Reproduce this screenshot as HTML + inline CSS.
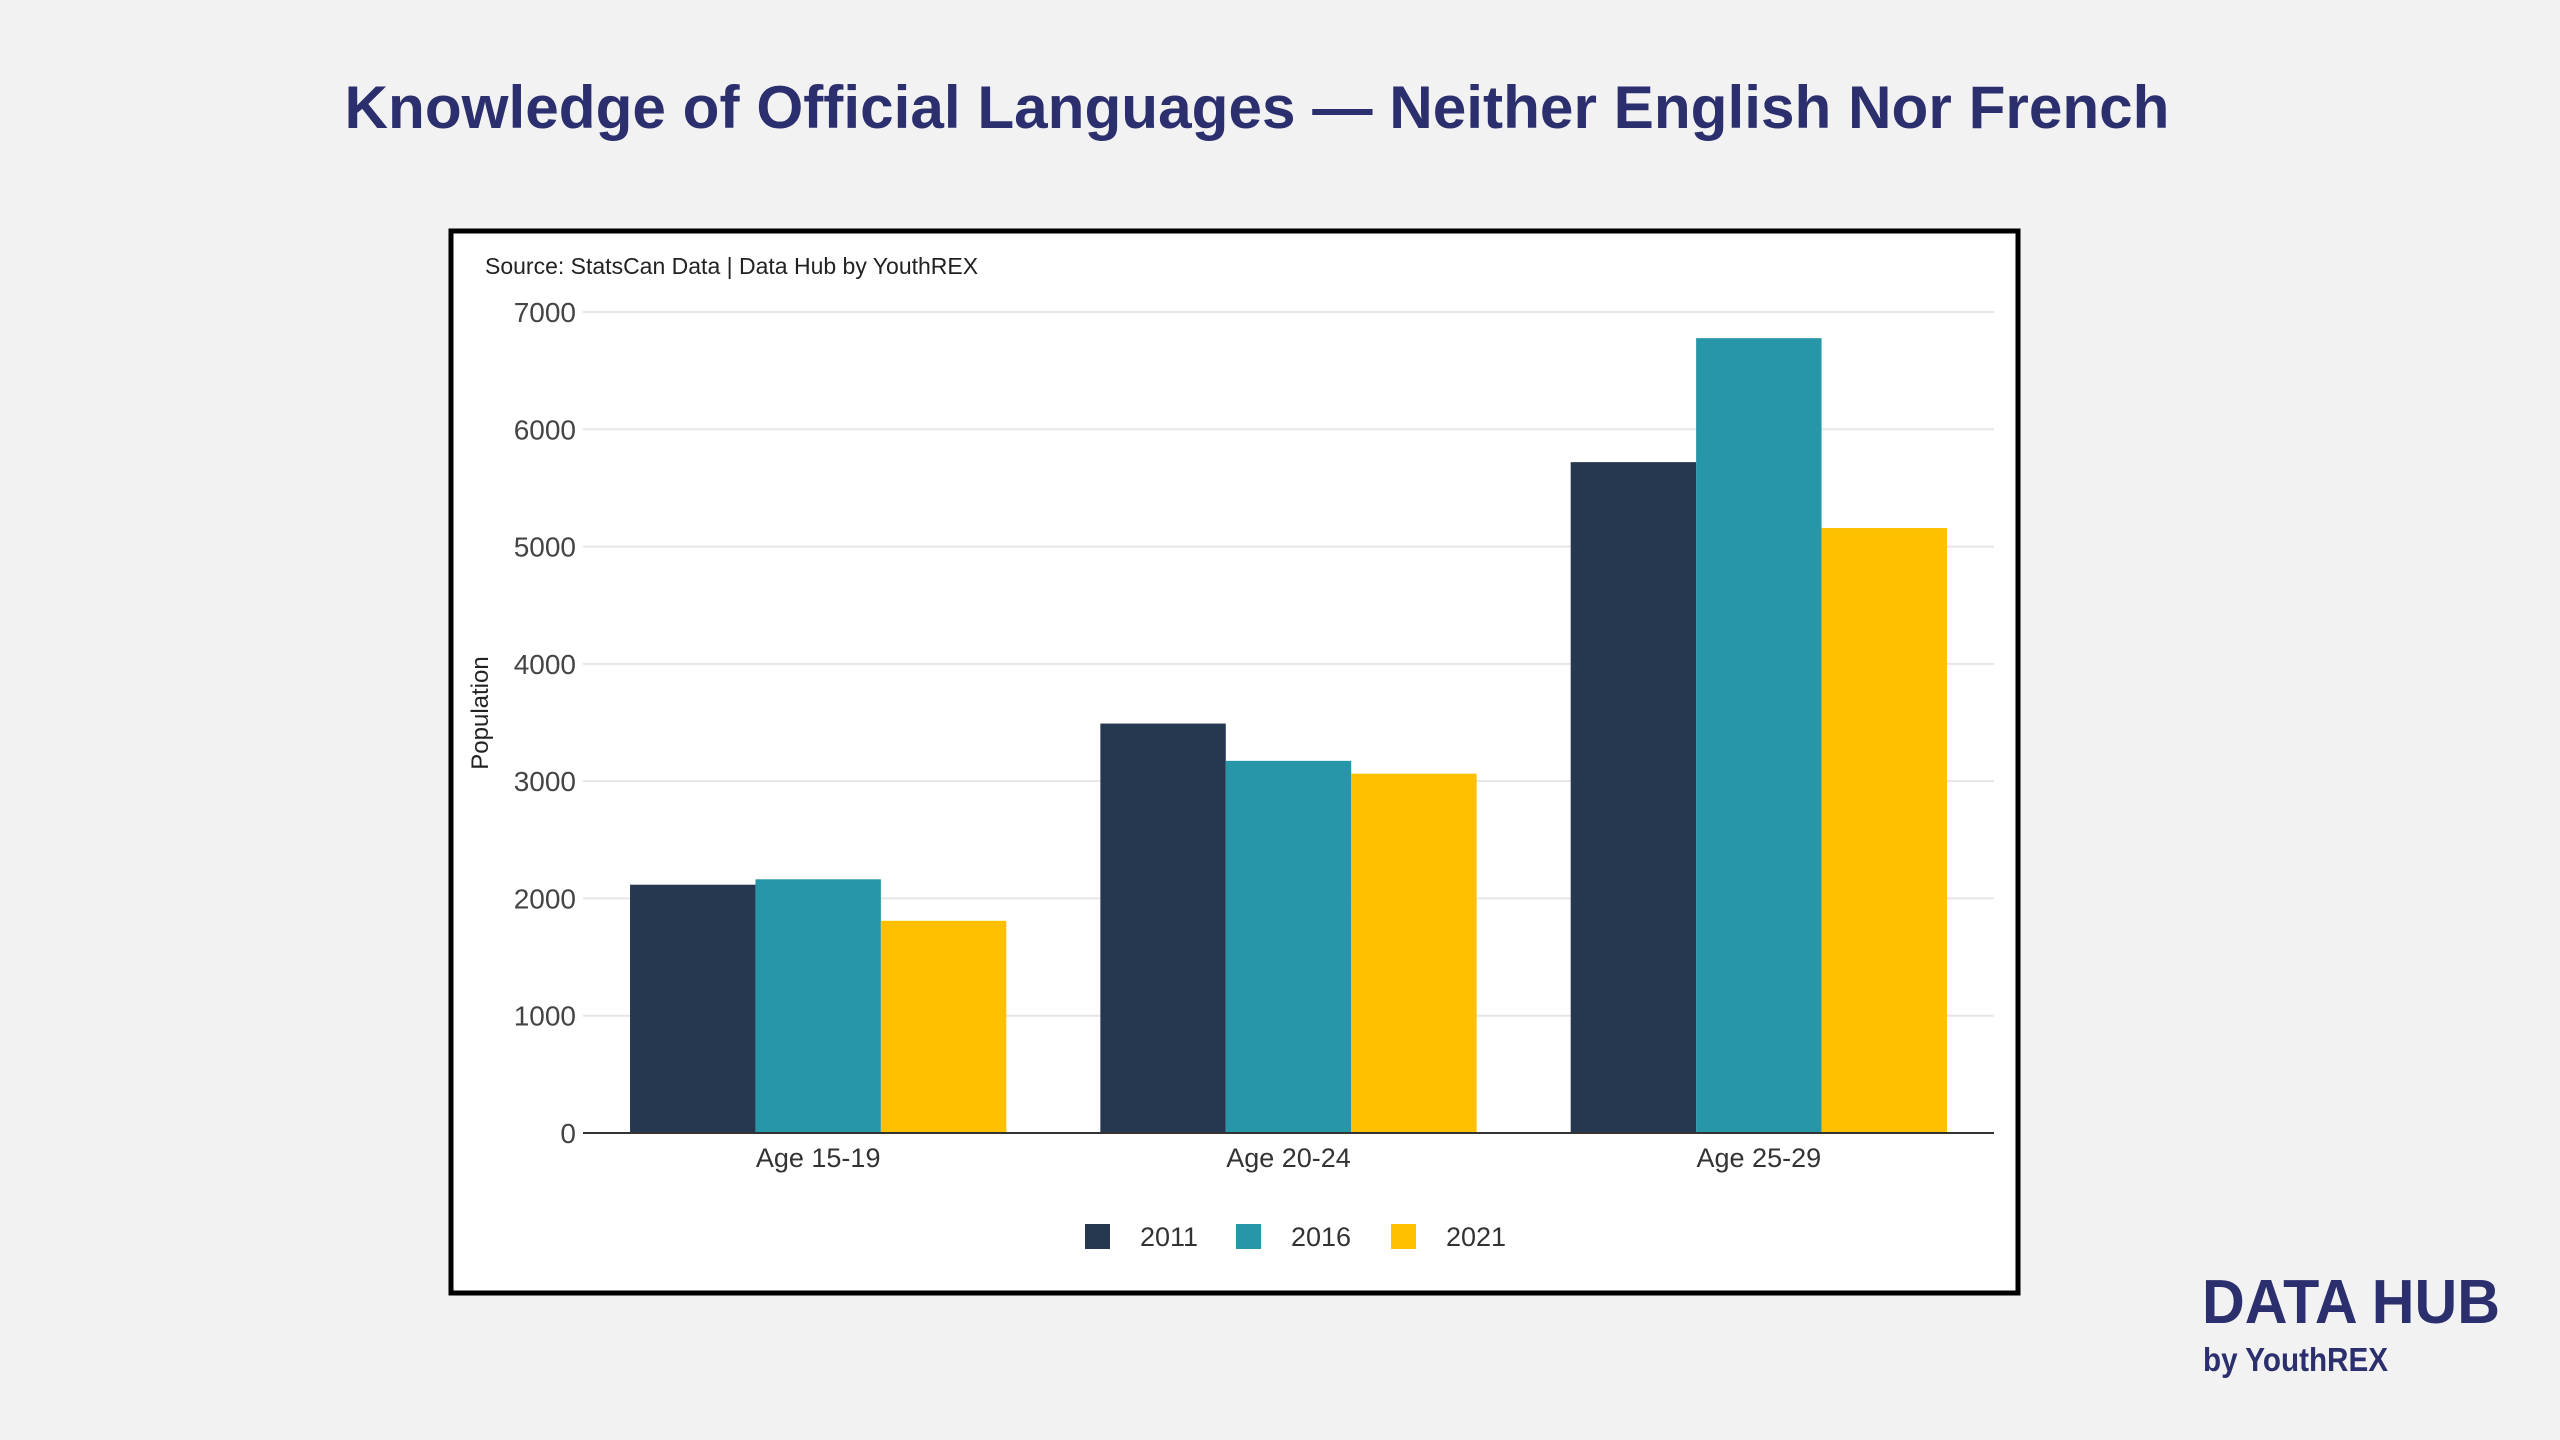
<!DOCTYPE html>
<html><head><meta charset="utf-8">
<style>
html,body{margin:0;padding:0;background:#f2f2f2;width:2560px;height:1440px;overflow:hidden;font-family:"Liberation Sans",sans-serif;}
</style></head>
<body>
<svg width="2560" height="1440" viewBox="0 0 2560 1440" xmlns="http://www.w3.org/2000/svg">
<text x="1257" y="128" text-anchor="middle" font-size="60" font-weight="bold" fill="#2b2f6e" textLength="1825" lengthAdjust="spacingAndGlyphs">Knowledge of Official Languages — Neither English Nor French</text>
<rect x="451" y="231" width="1567" height="1062" fill="#ffffff" stroke="#000" stroke-width="5"/>
<text x="485" y="274" font-size="23" fill="#222">Source: StatsCan Data | Data Hub by YouthREX</text>
<g id="grid"></g>
<g id="bars"></g>
<g id="axes"></g>
<text transform="translate(488,713) rotate(-90)" text-anchor="middle" font-size="24" fill="#222">Population</text>
<g id="legend"></g>
<text x="2202" y="1323" font-size="62" font-weight="bold" fill="#2b2f6e" textLength="298" lengthAdjust="spacingAndGlyphs">DATA HUB</text>
<text x="2203" y="1371" font-size="33" font-weight="bold" fill="#2b2f6e" textLength="185" lengthAdjust="spacingAndGlyphs">by YouthREX</text>
</svg>
<script>
const categories = ["Age 15-19","Age 20-24","Age 25-29"];
const seriesNames = ["2011","2016","2021"];
const values2011 = [2117,3491,5720];
const values2016 = [2163,3173,6777];
const values2021 = [1809,3064,5158];
const yTicks = [0,1000,2000,3000,4000,5000,6000,7000];
const colors = ["#253850","#2796a8","#ffc000"];
const NS="http://www.w3.org/2000/svg";
const X0=583,X1=1994,Y0=1133,Y1=312,YMAX=7000;
function y(v){return Y0-(Y0-Y1)*v/YMAX;}
const band=(X1-X0)/categories.length;
function xBand(i){return X0+band*i;}
function mk(tag,attrs,parent){const e=document.createElementNS(NS,tag);for(const k in attrs)e.setAttribute(k,attrs[k]);parent.appendChild(e);return e;}
const grid=document.getElementById('grid'),bars=document.getElementById('bars'),axes=document.getElementById('axes'),legend=document.getElementById('legend');
yTicks.forEach(t=>{
  if(t>0){const l=mk('line',{x1:X0,x2:X1,y1:y(t),y2:y(t),stroke:'#e6e6e6','stroke-width':2},grid);
  
  }
  const tx=mk('text',{x:X0-7,y:y(t)+10,'text-anchor':'end','font-size':28,fill:'#444'},axes);
  tx.textContent=t;
  
  
});
const ax=mk('line',{x1:X0,x2:X1,y1:Y0,y2:Y0,stroke:'#333','stroke-width':2},axes);


const all=[values2011,values2016,values2021];
const bw=band*0.8/3;
categories.forEach((c,i)=>{
  all.forEach((vals,s)=>{
    const x=xBand(i)+band*0.1+bw*s;
    const r=mk('rect',{x:x,y:y(vals[i]),width:bw,height:Y0-y(vals[i]),fill:colors[s]},bars);
    
    
  });
  const t=mk('text',{x:xBand(i)+band/2,y:1167,'text-anchor':'middle','font-size':27,fill:'#333'},axes);
  t.textContent=c;
  
  
});
const legX=[1085,1236,1391];
seriesNames.forEach((n,s)=>{
  const r=mk('rect',{x:legX[s],y:1224,width:25,height:25,fill:colors[s]},legend);
  
  
  const t=mk('text',{x:legX[s]+55,y:1246,'font-size':27,fill:'#333'},legend);
  t.textContent=n;
  
  
});
</script>
</body></html>
